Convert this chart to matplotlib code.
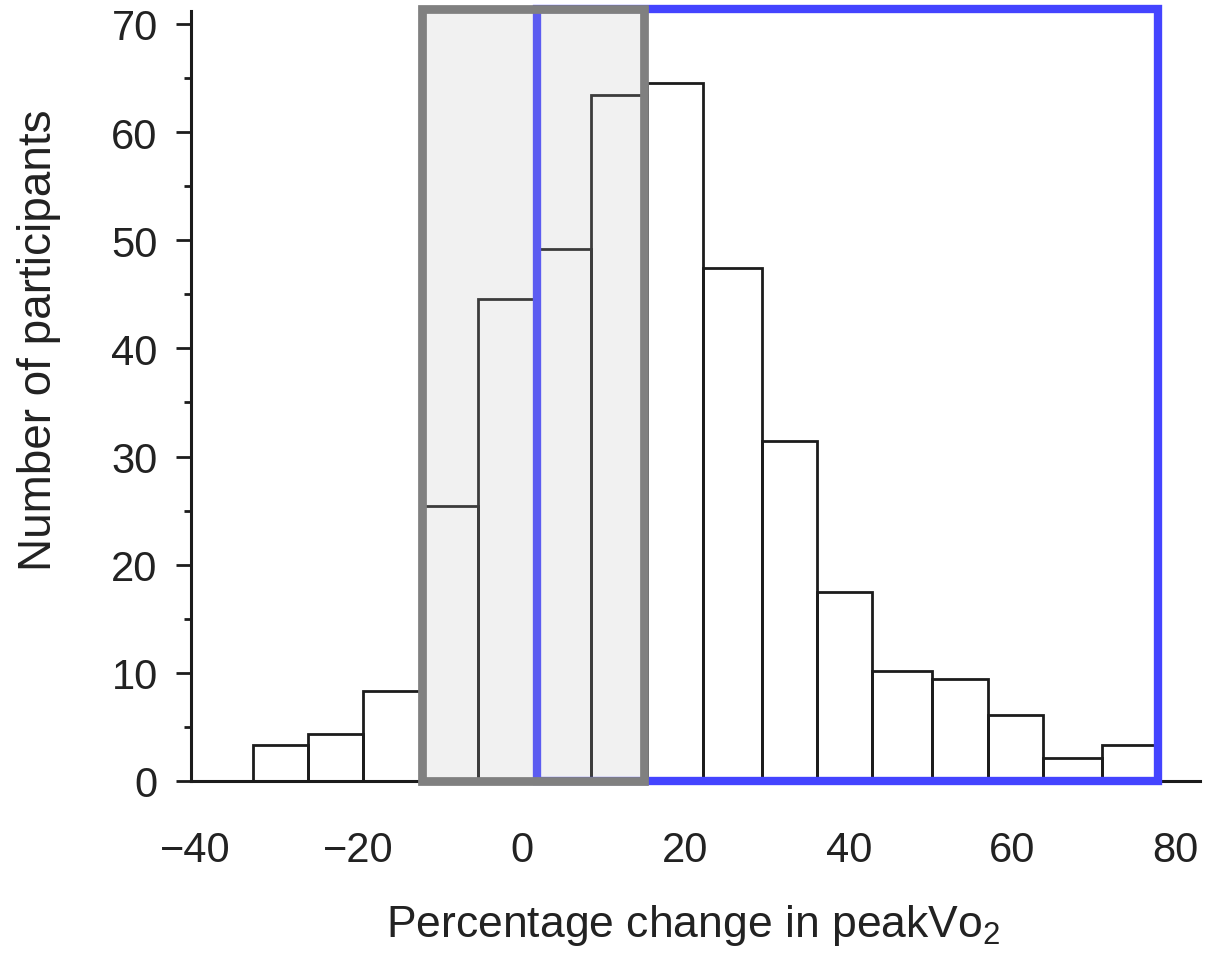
import numpy as np
import matplotlib
matplotlib.use('Agg')
import matplotlib.pyplot as plt
from matplotlib.patches import Rectangle
from matplotlib.ticker import MultipleLocator

# ============================== DATA ==============================
# bin edges [% change] and counts
bin_edges = [-32.9, -26.2, -19.4, -12.4, -5.35, 1.8, 8.5, 15.3, 22.2,
             29.4, 36.1, 42.9, 50.2, 57.0, 63.8, 71.0, 77.7]
counts = [3.3, 4.3, 8.3, 25.4, 44.6, 49.2, 63.4, 64.5, 47.4,
          31.4, 17.5, 10.2, 9.4, 6.1, 2.1, 3.3]

# highlighted ranges [x0, x1]
gray_range = [-12.2, 15.0]
blue_range = [1.8, 77.9]
box_top = 71.4

xticks = [-40, -20, 0, 20, 40, 60, 80]
yticks = [0, 10, 20, 30, 40, 50, 60, 70]

# ============================== PLOT ==============================
plt.rcParams['font.family'] = ['Liberation Sans', 'DejaVu Sans']
plt.rcParams['mathtext.fontset'] = 'custom'
plt.rcParams['mathtext.rm'] = 'Liberation Sans'
txtc = '#222222'

fig = plt.figure(figsize=(12.07, 9.54), dpi=100)
ax = fig.add_axes([191/1207, 1-782/954, 1009/1207, 770/954])

edges = np.array(bin_edges)
ax.bar(edges[:-1], counts, width=np.diff(edges), align='edge',
       facecolor='none', edgecolor='#1c1c1c', linewidth=2.0, zorder=2)

# blue box (edge only)
ax.add_patch(Rectangle((blue_range[0], 0), blue_range[1]-blue_range[0], box_top,
                       facecolor='none', edgecolor='#4444ff', linewidth=6,
                       joinstyle='miter', clip_on=False, zorder=3))
# gray box: translucent fill over bars, then edge
ax.add_patch(Rectangle((gray_range[0], 0), gray_range[1]-gray_range[0], box_top,
                       facecolor='#bdbdbd', alpha=0.2, edgecolor='none',
                       clip_on=False, zorder=4))
ax.add_patch(Rectangle((gray_range[0], 0), gray_range[1]-gray_range[0], box_top,
                       facecolor='none', edgecolor='#808080', linewidth=6.3,
                       joinstyle='miter', clip_on=False, zorder=5))

ax.set_xlim(-40.5, 83)
ax.set_ylim(0, 71.2)
ax.set_xticks(xticks)
ax.set_yticks(yticks)
ax.yaxis.set_minor_locator(MultipleLocator(5))

for s in ['top', 'right']:
    ax.spines[s].set_visible(False)
for s in ['left', 'bottom']:
    ax.spines[s].set_linewidth(2.2)
    ax.spines[s].set_color('#1c1c1c')

ax.tick_params(axis='x', length=0, pad=35, labelsize=30, labelcolor=txtc)
ax.tick_params(axis='y', which='major', length=11, width=2, pad=13,
               labelsize=30, labelcolor=txtc, color='#1c1c1c')
ax.tick_params(axis='y', which='minor', length=5, width=2, color='#1c1c1c')

fig.text(693/1207, 1-926/954, 'Percentage change in peakVo$_2$', fontsize=32,
         color=txtc, ha='center', va='center')
fig.text(39/1207, 1-340/954, 'Number of participants', fontsize=33,
         color=txtc, ha='center', va='center', rotation=90)

plt.savefig('out.png', dpi=100)
